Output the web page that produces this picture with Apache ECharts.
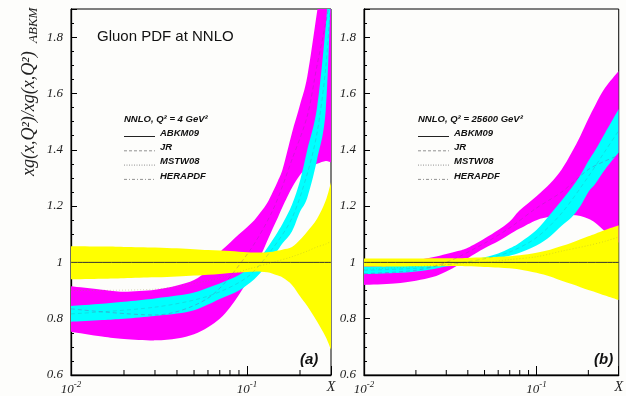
<!DOCTYPE html>
<html>
<head>
<meta charset="utf-8">
<script src="https://cdn.jsdelivr.net/npm/echarts@6/dist/echarts.min.js"></script>
<style>
  html, body { margin: 0; padding: 0; background: #fdfdfb; }
  #chart { width: 626px; height: 396px; }
</style>
</head>
<body>
<div id="chart"></div>
<script>
// Gluon PDF ratios to ABKM09 at NNLO, two scales: (a) Q^2 = 4 GeV^2, (b) Q^2 = 25600 GeV^2

const yTicks = [0.6, 0.8, 1.0, 1.2, 1.4, 1.6, 1.8];
const xMinorTicks = [0.02, 0.03, 0.04, 0.05, 0.06, 0.07, 0.08, 0.09, 0.2];

// ---- panel (a): Q^2 = 4 GeV^2 ----
const xA = [0.01, 0.015, 0.02, 0.03, 0.04, 0.05, 0.06, 0.07, 0.08, 0.09, 0.1, 0.11, 0.12, 0.13, 0.14, 0.15, 0.16, 0.18, 0.2, 0.22, 0.25, 0.28, 0.3];
const mstwLoA = [0.754, 0.737, 0.728, 0.723, 0.73, 0.745, 0.77, 0.80, 0.84, 0.885, 0.93, 0.975, 1.025, 1.075, 1.12, 1.16, 1.2, 1.265, 1.31, 1.335, 1.35, 1.36, 1.355];
const mstwHiA = [0.915, 0.903, 0.896, 0.903, 0.918, 0.937, 0.975, 1.035, 1.07, 1.10, 1.125, 1.15, 1.18, 1.21, 1.25, 1.29, 1.335, 1.46, 1.56, 1.66, 1.89, 2.1, 2.2];
const jrLoA   = [0.789, 0.795, 0.80, 0.81, 0.818, 0.83, 0.85, 0.87, 0.885, 0.90, 0.92, 0.94, 0.965, 0.99, 1.02, 1.045, 1.07, 1.11, 1.18, 1.23, 1.365, 1.54, 1.97];
const jrHiA   = [0.845, 0.853, 0.86, 0.872, 0.882, 0.893, 0.91, 0.925, 0.94, 0.955, 0.975, 0.995, 1.02, 1.05, 1.08, 1.11, 1.14, 1.205, 1.29, 1.40, 1.55, 1.84, 2.1];
const abkmLoA = [0.94, 0.942, 0.944, 0.947, 0.95, 0.953, 0.956, 0.959, 0.962, 0.964, 0.966, 0.967, 0.967, 0.965, 0.96, 0.953, 0.945, 0.92, 0.88, 0.845, 0.79, 0.735, 0.69];
const abkmHiA = [1.057, 1.056, 1.055, 1.053, 1.05, 1.047, 1.044, 1.042, 1.04, 1.038, 1.036, 1.035, 1.035, 1.036, 1.038, 1.042, 1.046, 1.055, 1.08, 1.11, 1.155, 1.22, 1.285];

const xCentralA = [0.01, 0.03, 0.06, 0.1, 0.14, 0.18, 0.22, 0.25, 0.28, 0.3];
const jrCentralA   = [0.817, 0.841, 0.88, 0.947, 1.05, 1.157, 1.315, 1.46, 1.69, 1.95];
const mstwCentralA = [0.835, 0.813, 0.873, 1.028, 1.185, 1.365, 1.52, 1.70, 1.85, 1.95];
const heraCentralA = [0.90, 0.905, 0.935, 0.975, 1.0, 1.02, 1.04, 1.055, 1.065, 1.075];

// ---- panel (b): Q^2 = 25600 GeV^2 ----
const xB = [0.01, 0.015, 0.02, 0.025, 0.03, 0.035, 0.04, 0.05, 0.06, 0.07, 0.08, 0.1, 0.12, 0.14, 0.16, 0.18, 0.2, 0.22, 0.25, 0.3];
const mstwLoB = [0.92, 0.925, 0.935, 0.948, 0.968, 0.99, 1.015, 1.05, 1.075, 1.10, 1.12, 1.15, 1.162, 1.166, 1.168, 1.165, 1.155, 1.14, 1.11, 1.07];
const mstwHiB = [1.0, 1.003, 1.008, 1.018, 1.03, 1.04, 1.052, 1.085, 1.115, 1.145, 1.185, 1.235, 1.28, 1.33, 1.39, 1.45, 1.51, 1.56, 1.62, 1.68];
const jrLoB   = [0.958, 0.962, 0.968, 0.976, 0.985, 0.992, 0.998, 1.008, 1.015, 1.024, 1.034, 1.06, 1.092, 1.13, 1.16, 1.2, 1.25, 1.28, 1.33, 1.39];
const jrHiB   = [0.985, 0.987, 0.99, 0.993, 0.997, 1.001, 1.006, 1.018, 1.032, 1.05, 1.07, 1.115, 1.17, 1.22, 1.265, 1.31, 1.36, 1.40, 1.46, 1.545];
const abkmLoB = [0.985, 0.985, 0.986, 0.986, 0.987, 0.987, 0.986, 0.984, 0.982, 0.979, 0.975, 0.963, 0.95, 0.935, 0.923, 0.912, 0.902, 0.894, 0.882, 0.866];
const abkmHiB = [1.014, 1.014, 1.014, 1.015, 1.015, 1.015, 1.016, 1.018, 1.02, 1.022, 1.025, 1.034, 1.045, 1.058, 1.07, 1.082, 1.093, 1.102, 1.115, 1.132];

const xCentralB = [0.01, 0.02, 0.03, 0.05, 0.07, 0.1, 0.14, 0.2, 0.25, 0.3];
const jrCentralB   = [0.972, 0.979, 0.991, 1.013, 1.037, 1.088, 1.175, 1.305, 1.395, 1.468];
const mstwCentralB = [0.96, 0.972, 1.0, 1.068, 1.123, 1.193, 1.25, 1.33, 1.36, 1.38];
const heraCentralB = [0.975, 0.985, 0.993, 1.0, 1.01, 1.02, 1.04, 1.06, 1.075, 1.09];

// ABKM09 central value is the reference (ratio 1)
const xAbkm = [0.01, 0.3];
const abkmCentral = [1, 1];

const legendNames = ['ABKM09', 'JR', 'MSTW08', 'HERAPDF'];
const panelTags = ['(a)', '(b)'];
const scaleLabels = ['NNLO, Q\u00B2 = 4 GeV\u00B2', 'NNLO, Q\u00B2 = 25600 GeV\u00B2'];

const X_MIN = 0.01, X_MAX = 0.3, Y_MIN = 0.6, Y_MAX = 1.9;
const SERIF = "'Liberation Serif', 'DejaVu Serif', serif";
const SANS = "'Liberation Sans', Arial, sans-serif";
const MAGENTA = '#ff00ff', CYAN = '#00ffff', YELLOW = '#ffff00';

const DASH = { solid: 'solid', jr: [4, 3], mstw: [1, 2], hera: [5, 2, 1, 2] };

// Catmull-Rom spline through pixel points, as cubic bezier path commands
function splineCmds(pts) {
  let d = '';
  for (let i = 0; i < pts.length - 1; i++) {
    const p0 = pts[Math.max(0, i - 1)], p1 = pts[i], p2 = pts[i + 1], p3 = pts[Math.min(pts.length - 1, i + 2)];
    const c1x = p1[0] + (p2[0] - p0[0]) / 6, c1y = p1[1] + (p2[1] - p0[1]) / 6;
    const c2x = p2[0] - (p3[0] - p1[0]) / 6, c2y = p2[1] - (p3[1] - p1[1]) / 6;
    d += ' C' + c1x.toFixed(2) + ' ' + c1y.toFixed(2) + ' ' + c2x.toFixed(2) + ' ' + c2y.toFixed(2) +
         ' ' + p2[0].toFixed(2) + ' ' + p2[1].toFixed(2);
  }
  return d;
}

// Filled uncertainty band between lo and hi, projected through the panel's axes
function band(g, xs, lo, hi, color) {
  return {
    type: 'custom', xAxisIndex: g, yAxisIndex: g, silent: true, clip: true, z: 2,
    data: [[xs[0], lo[0]]],
    renderItem: (params, api) => {
      const top = xs.map((x, k) => api.coord([x, hi[k]]));
      const bot = xs.map((x, k) => api.coord([x, lo[k]])).reverse();
      const d = 'M' + top[0][0] + ' ' + top[0][1] + splineCmds(top) +
                ' L' + bot[0][0] + ' ' + bot[0][1] + splineCmds(bot) + ' Z';
      const cs = params.coordSys;
      return {
        type: 'group',
        clipPath: { type: 'rect', shape: { x: cs.x, y: cs.y, width: cs.width, height: cs.height } },
        children: [{ type: 'path', shape: { pathData: d }, style: { fill: color, stroke: null } }]
      };
    }
  };
}

function curve(g, xs, ys, color, width, dash, opacity) {
  return {
    type: 'line', xAxisIndex: g, yAxisIndex: g, symbol: 'none', smooth: 0.3, silent: true,
    data: xs.map((x, k) => [x, ys[k]]),
    lineStyle: { color: color, width: width, type: dash, opacity: opacity }, z: 3
  };
}

function minorTicks(g) {
  return {
    type: 'custom', xAxisIndex: g, yAxisIndex: g, silent: true, z: 5,
    data: xMinorTicks.map(v => [v, Y_MIN]),
    renderItem: (params, api) => {
      const p = api.coord([api.value(0), api.value(1)]);
      return { type: 'line', shape: { x1: p[0], y1: p[1], x2: p[0], y2: p[1] - 5 },
               style: { stroke: '#000', lineWidth: 1 } };
    }
  };
}

function xLabel(v) {
  if (v > 0.25) return '{x|X}';
  const e = Math.round(Math.log10(v));
  return '{b|10}{s|' + e + '}';
}

const grids = [
  { left: 71, top: 9, width: 260, height: 369 },
  { left: 364, top: 9, width: 261, height: 369 }
].map(g => Object.assign(g, { show: true, borderColor: '#000', borderWidth: 1 }));

const xAxes = [0, 1].map(i => ({
  type: 'log', logBase: 10, gridIndex: i, min: X_MIN, max: X_MAX,
  axisLine: { lineStyle: { color: '#000', width: 1.3 } },
  axisTick: { inside: true, length: 9, lineStyle: { color: '#000' } },
  minorTick: { show: false }, splitLine: { show: false },
  axisLabel: {
    margin: 5, showMinLabel: true, showMaxLabel: true, formatter: xLabel, color: '#222',
    rich: {
      b: { fontFamily: SERIF, fontStyle: 'italic', fontSize: 13, color: '#222' },
      s: { fontFamily: SERIF, fontStyle: 'italic', fontSize: 9, color: '#222', padding: [0, 0, 10, 0] },
      x: { fontFamily: SERIF, fontStyle: 'italic', fontSize: 14, color: '#222' }
    }
  }
}));

const yAxes = [0, 1].map(i => ({
  type: 'value', gridIndex: i, min: Y_MIN, max: Y_MAX, interval: 0.2,
  axisLine: { show: true, lineStyle: { color: '#000', width: 1.3 } },
  axisTick: { inside: true, length: 6, lineStyle: { color: '#000' } },
  minorTick: { show: true, splitNumber: 4, length: 3, lineStyle: { color: '#000' } },
  splitLine: { show: false },
  axisLabel: {
    margin: 8, showMaxLabel: false, color: '#222',
    fontFamily: SERIF, fontStyle: 'italic', fontSize: 13,
    formatter: v => (yTicks.some(t => Math.abs(t - v) < 1e-6) ? String(+v.toFixed(1)) : '')
  }
}));

const series = [
  band(0, xA, mstwLoA, mstwHiA, MAGENTA),
  band(0, xA, jrLoA, jrHiA, CYAN),
  band(0, xA, abkmLoA, abkmHiA, YELLOW),
  curve(0, xCentralA, mstwCentralA, '#8a3a9a', 0.8, DASH.jr, 0.45),
  curve(0, xCentralA, jrCentralA, '#3a8a9a', 0.8, DASH.jr, 0.35),
  curve(0, xCentralA, heraCentralA, '#9a9a40', 0.8, DASH.mstw, 0.45),
  curve(0, xAbkm, abkmCentral, '#333', 1, DASH.solid, 1),
  minorTicks(0),
  band(1, xB, mstwLoB, mstwHiB, MAGENTA),
  band(1, xB, jrLoB, jrHiB, CYAN),
  band(1, xB, abkmLoB, abkmHiB, YELLOW),
  curve(1, xCentralB, mstwCentralB, '#8a3a9a', 0.8, DASH.jr, 0.45),
  curve(1, xCentralB, jrCentralB, '#3a8a9a', 0.8, DASH.jr, 0.35),
  curve(1, xCentralB, heraCentralB, '#9a9a40', 0.8, DASH.mstw, 0.45),
  curve(1, xAbkm, abkmCentral, '#333', 1, DASH.solid, 1),
  minorTicks(1)
];

// Legend blocks, panel tags, title and y-axis title
const legendFont = { fontFamily: SANS, fontStyle: 'italic', fontWeight: 'bold', fontSize: 9.5, fill: '#111' };
const sampleDash = [null, [3, 2], [1, 1.5], [3, 2, 1, 2]];
const sampleColor = ['#222', '#777', '#777', '#777'];

function legendBlock(x0, y0, header) {
  const els = [{
    type: 'text', x: x0, y: y0,
    style: Object.assign({ text: header, textVerticalAlign: 'middle' }, legendFont)
  }];
  legendNames.forEach((name, k) => {
    const y = y0 + 14 + k * 14.3;
    els.push({
      type: 'line', shape: { x1: x0, y1: y + 3.5, x2: x0 + 31, y2: y + 3.5 },
      style: { stroke: sampleColor[k], lineWidth: k === 0 ? 1 : 0.8, lineDash: sampleDash[k] }
    });
    els.push({
      type: 'text', x: x0 + 36, y: y,
      style: Object.assign({ text: name, textVerticalAlign: 'middle' }, legendFont)
    });
  });
  return els;
}

const graphic = [].concat(
  [{
    type: 'text', x: 97, y: 37,
    style: { text: 'Gluon PDF at NNLO', fontFamily: SANS, fontSize: 15, fill: '#111', textVerticalAlign: 'middle' }
  },
  {
    type: 'text', x: 29, y: 176, rotation: Math.PI / 2,
    style: { text: 'xg(x,Q\u00B2)/xg(x,Q\u00B2)', fontFamily: SERIF, fontStyle: 'italic', fontSize: 18,
             fill: '#222', textVerticalAlign: 'middle', textAlign: 'left' }
  },
  {
    type: 'text', x: 34, y: 43, rotation: Math.PI / 2,
    style: { text: 'ABKM', fontFamily: SERIF, fontStyle: 'italic', fontSize: 13,
             fill: '#222', textVerticalAlign: 'middle', textAlign: 'left' }
  },
  {
    type: 'text', x: 300, y: 360,
    style: { text: panelTags[0], fontFamily: SANS, fontStyle: 'italic', fontWeight: 'bold', fontSize: 15,
             fill: '#111', textVerticalAlign: 'middle' }
  },
  {
    type: 'text', x: 594, y: 360,
    style: { text: panelTags[1], fontFamily: SANS, fontStyle: 'italic', fontWeight: 'bold', fontSize: 15,
             fill: '#111', textVerticalAlign: 'middle' }
  }],
  legendBlock(124, 119, scaleLabels[0]),
  legendBlock(418, 119, scaleLabels[1])
);

const chart = echarts.init(document.getElementById('chart'), null, { renderer: 'canvas' });
chart.setOption({
  backgroundColor: '#fdfdfb',
  animation: false,
  grid: grids,
  xAxis: xAxes,
  yAxis: yAxes,
  series: series,
  graphic: graphic
});
</script>
</body>
</html>
